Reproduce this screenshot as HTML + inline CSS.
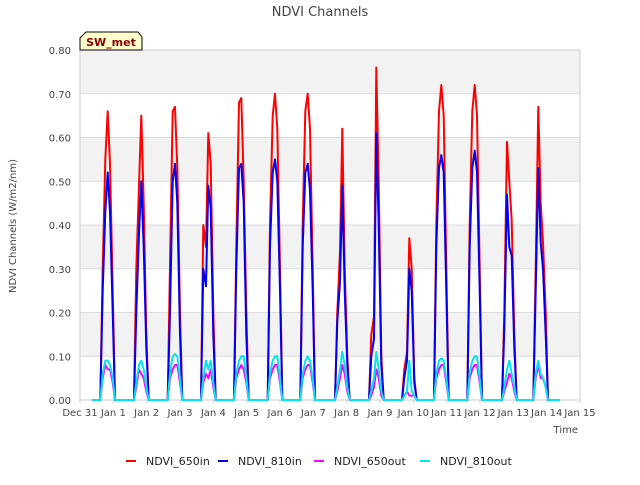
<!DOCTYPE html>
<html><head><meta charset="utf-8"><style>
body{margin:0;background:#fff;font-family:"Liberation Sans","DejaVu Sans",sans-serif;}
svg text{font-family:"DejaVu Sans","Liberation Sans",sans-serif;}
</style></head><body>
<svg id="chart" width="640" height="480" viewBox="0 0 640 480">
<rect width="640" height="480" fill="#fff"/>
<text x="320" y="16" text-anchor="middle" font-size="13" fill="#444">NDVI Channels</text>
<g id="plot"></g>
<g id="axes"></g>
<g id="series"></g>
<path d="M80,50 L80,38 L86,32 L138,32 L142,37 L142,50 Z" fill="#ffffcc" stroke="#000" stroke-width="1"/>
<text x="111" y="46" text-anchor="middle" font-size="11" font-weight="bold" fill="#8b0000">SW_met</text>
<text x="16" y="226" text-anchor="middle" font-size="10" fill="#444" transform="rotate(-90 16 226)">NDVI Channels (W/m2/nm)</text>
<text x="578" y="433" text-anchor="end" font-size="10" fill="#444">Time</text>
<g id="legend"></g>
</svg>
<script>
const yTicks=[0,0.1,0.2,0.3,0.4,0.5,0.6,0.7,0.8];
const xTickLabels=["Dec 31","Jan 1","Jan 2","Jan 3","Jan 4","Jan 5","Jan 6","Jan 7","Jan 8","Jan 9","Jan 10","Jan 11","Jan 12","Jan 13","Jan 14","Jan 15"];
const dayCenters=[0.83,1.84,2.85,3.85,4.84,5.85,6.83,7.87,8.89,9.88,10.84,11.84,12.88,13.82];
const offsets=[-0.22,-0.15,-0.07,0,0.07,0.15,0.22];
const ndvi650in=[
[0,0.3,0.55,0.66,0.54,0.25,0],[0,0.3,0.49,0.65,0.45,0.15,0],[0,0.31,0.66,0.67,0.53,0.2,0],
[0,0.4,0.35,0.61,0.54,0.2,0],[0,0.35,0.68,0.69,0.5,0.2,0],[0,0.4,0.65,0.70,0.62,0.3,0],
[0,0.4,0.66,0.70,0.62,0.3,0],[0,0.2,0.34,0.62,0.3,0.1,0],[0,0.15,0.19,0.76,0.5,0.1,0],
[0,0.07,0.11,0.37,0.3,0.05,0],[0,0.4,0.66,0.72,0.65,0.3,0],[0,0.4,0.66,0.72,0.65,0.3,0],
[0,0.2,0.59,0.50,0.41,0.15,0],[0,0.3,0.67,0.45,0.36,0.2,0]];
const ndvi810in=[
[0,0.25,0.43,0.52,0.43,0.2,0],[0,0.2,0.38,0.50,0.35,0.12,0],[0,0.2,0.5,0.54,0.45,0.15,0],
[0,0.3,0.26,0.49,0.44,0.15,0],[0,0.3,0.53,0.54,0.45,0.15,0],[0,0.35,0.52,0.55,0.5,0.25,0],
[0,0.35,0.52,0.54,0.48,0.25,0],[0,0.18,0.27,0.49,0.25,0.08,0],[0,0.1,0.14,0.61,0.4,0.08,0],
[0,0.05,0.09,0.30,0.25,0.04,0],[0,0.35,0.53,0.56,0.52,0.25,0],[0,0.35,0.53,0.57,0.52,0.25,0],
[0,0.16,0.47,0.35,0.33,0.12,0],[0,0.25,0.53,0.36,0.3,0.15,0]];
const ndvi650out=[
[0,0.05,0.08,0.07,0.07,0.04,0],[0,0.03,0.07,0.06,0.05,0.02,0],[0,0.05,0.07,0.08,0.08,0.04,0],
[0,0.04,0.06,0.05,0.07,0.03,0],[0,0.05,0.07,0.08,0.07,0.04,0],[0,0.05,0.07,0.08,0.08,0.04,0],
[0,0.05,0.07,0.08,0.08,0.04,0],[0,0.02,0.05,0.08,0.06,0.02,0],[0,0.01,0.03,0.07,0.05,0.01,0],
[0,0.01,0.02,0.01,0.01,0.01,0],[0,0.05,0.07,0.08,0.08,0.04,0],[0,0.05,0.07,0.08,0.08,0.04,0],
[0,0.02,0.04,0.06,0.05,0.02,0],[0,0.05,0.08,0.05,0.05,0.03,0]];
const ndvi810out=[
[0,0.06,0.09,0.09,0.08,0.05,0],[0,0.04,0.08,0.09,0.07,0.03,0],[0,0.06,0.1,0.105,0.1,0.05,0],
[0,0.05,0.09,0.07,0.09,0.04,0],[0,0.06,0.09,0.1,0.1,0.05,0],[0,0.06,0.09,0.1,0.1,0.05,0],
[0,0.06,0.09,0.1,0.09,0.05,0],[0,0.03,0.07,0.11,0.08,0.03,0],[0,0.02,0.05,0.11,0.07,0.02,0],
[0,0.01,0.02,0.09,0.02,0.01,0],[0,0.06,0.09,0.095,0.09,0.05,0],[0,0.06,0.09,0.1,0.1,0.05,0],
[0,0.03,0.07,0.09,0.06,0.03,0],[0,0.06,0.09,0.06,0.05,0.03,0]];
const seriesNames=["NDVI_650in","NDVI_810in","NDVI_650out","NDVI_810out"];
const seriesColors=["#ff0000","#0000ee","#ff00ff","#00e5ee"];
const startDay=0.37, endDay=14.4;

const NS="http://www.w3.org/2000/svg";
const L=80,R=580,T=50,B=400;
const x=d=>L+(R-L)*d/15;
const y=v=>B-(B-T)*v/0.8;
function mk(tag,attrs,parent){const e=document.createElementNS(NS,tag);for(const k in attrs)e.setAttribute(k,attrs[k]);parent.appendChild(e);return e;}
const plot=document.getElementById('plot'),axes=document.getElementById('axes'),ser=document.getElementById('series'),leg=document.getElementById('legend');
mk('rect',{x:L,y:T,width:R-L,height:B-T,fill:'#fff'},plot);
for(let i=0;i<yTicks.length-1;i++){if(i%2===1){const r=mk('rect',{x:L,y:y(yTicks[i+1]),width:R-L,height:y(yTicks[i])-y(yTicks[i+1]),fill:'#f2f2f2'},plot);}}
yTicks.forEach(v=>{
 const g=mk('line',{x1:L,x2:R,y1:y(v),y2:y(v),stroke:'#dcdcdc','stroke-width':1},plot);
 
 const t=mk('text',{x:L-9,y:y(v)+4,'text-anchor':'end','font-size':10,fill:'#444'},axes);
 t.textContent=v.toFixed(2);
 
});
mk('rect',{x:L,y:T,width:R-L,height:B-T,fill:'none',stroke:'#ccc'},axes);
xTickLabels.forEach((s,i)=>{
 const t=mk('text',{x:x(i),y:B+16,'text-anchor':'middle','font-size':10,fill:'#444'},axes);
 t.textContent=s;
 
 mk('line',{x1:x(i),x2:x(i),y1:B,y2:B+3,stroke:'#ccc'},axes);
});
[ndvi650in,ndvi810in,ndvi650out,ndvi810out].forEach((data,si)=>{
 let pts=[[startDay,0]];
 data.forEach((day,di)=>{day.forEach((v,k)=>pts.push([dayCenters[di]+offsets[k],v]));});
 pts.push([endDay,0]);
 const p=mk('polyline',{points:pts.map(q=>x(q[0]).toFixed(1)+','+y(q[1]).toFixed(1)).join(' '),fill:'none',stroke:seriesColors[si],'stroke-width':2,'stroke-linejoin':'round'},ser);
 
 
});
const legX=[126,218,314,420];
seriesNames.forEach((n,i)=>{
 const g=mk('g',{},leg);
 
 mk('line',{x1:legX[i],x2:legX[i]+10,y1:461,y2:461,stroke:seriesColors[i],'stroke-width':2},g);
 const t=mk('text',{x:legX[i]+20,y:465,'font-size':11,fill:'#222'},g);t.textContent=n;
});
</script>
</body></html>
